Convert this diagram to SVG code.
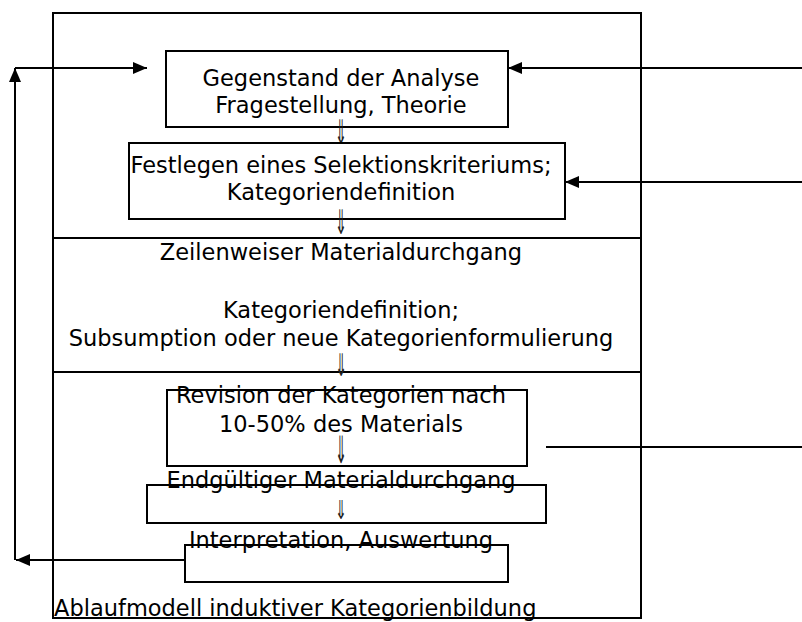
<svg xmlns="http://www.w3.org/2000/svg" width="802" height="622" viewBox="0 0 802 622">
<style>
.box{fill:none;stroke:#000;stroke-width:2}
.ln{fill:none;stroke:#000;stroke-width:2}
text{font-family:"DejaVu Sans","Liberation Sans",sans-serif;font-size:22.5px;fill:#000;text-anchor:middle}
.arr{font-size:26px;fill:#222}
.lft{text-anchor:start}
</style>
<defs>
<marker id="ah" viewBox="0 0 14 12" refX="14" refY="6" markerWidth="14" markerHeight="12" markerUnits="userSpaceOnUse" orient="auto">
<path d="M0,0 L14,6 L0,12 Z" fill="#000"/>
</marker>
</defs>
<rect width="802" height="622" fill="#fff"/>
<g id="frame">
<rect class="box" x="53" y="13" width="588" height="605"/>
<text class="lft" x="54" y="616">Ablaufmodell induktiver Kategorienbildung</text>
</g>
<g id="node1">
<rect class="box" x="166" y="51" width="342" height="76"/>
<text x="341" y="86">Gegenstand der Analyse</text>
<text x="341" y="113">Fragestellung, Theorie</text>
<text class="arr" transform="translate(341,144) scale(0.55,1.3)">⇓</text>
</g>
<g id="node2">
<rect class="box" x="129" y="143" width="436" height="76"/>
<text x="341" y="173">Festlegen eines Selektionskriteriums;</text>
<text x="341" y="200">Kategoriendefinition</text>
<text class="arr" transform="translate(341,234) scale(0.55,1.3)">⇓</text>
</g>
<g id="node3">
<rect class="box" x="53" y="238" width="588" height="134"/>
<text x="341" y="260">Zeilenweiser Materialdurchgang</text>
<text x="341" y="318">Kategoriendefinition;</text>
<text x="341" y="346">Subsumption oder neue Kategorienformulierung</text>
<text class="arr" transform="translate(341,376) scale(0.55,1.2)">⇓</text>
</g>
<g id="node4">
<rect class="box" x="167" y="390" width="360" height="76"/>
<text x="341" y="403">Revision der Kategorien nach</text>
<text x="341" y="432">10-50% des Materials</text>
<text class="arr" transform="translate(341,463) scale(0.55,1.45)">⇓</text>
</g>
<g id="node5">
<rect class="box" x="147" y="485" width="399" height="38"/>
<text x="341" y="488">Endgültiger Materialdurchgang</text>
<text class="arr" transform="translate(341,519) scale(0.55,1.0)">⇓</text>
</g>
<g id="node6">
<rect class="box" x="185" y="545" width="323" height="37"/>
<text x="341" y="548">Interpretation, Auswertung</text>
</g>
<g id="connectors">
<polyline class="ln" points="185,560 16,560" marker-end="url(#ah)"/>
<polyline class="ln" points="15,560 15,68" marker-end="url(#ah)"/>
<polyline class="ln" points="15,68 147,68" marker-end="url(#ah)"/>
<polyline class="ln" points="802,68 508,68" marker-end="url(#ah)"/>
<polyline class="ln" points="802,182 565,182" marker-end="url(#ah)"/>
<polyline class="ln" points="546,447 802,447"/>
</g>
</svg>
